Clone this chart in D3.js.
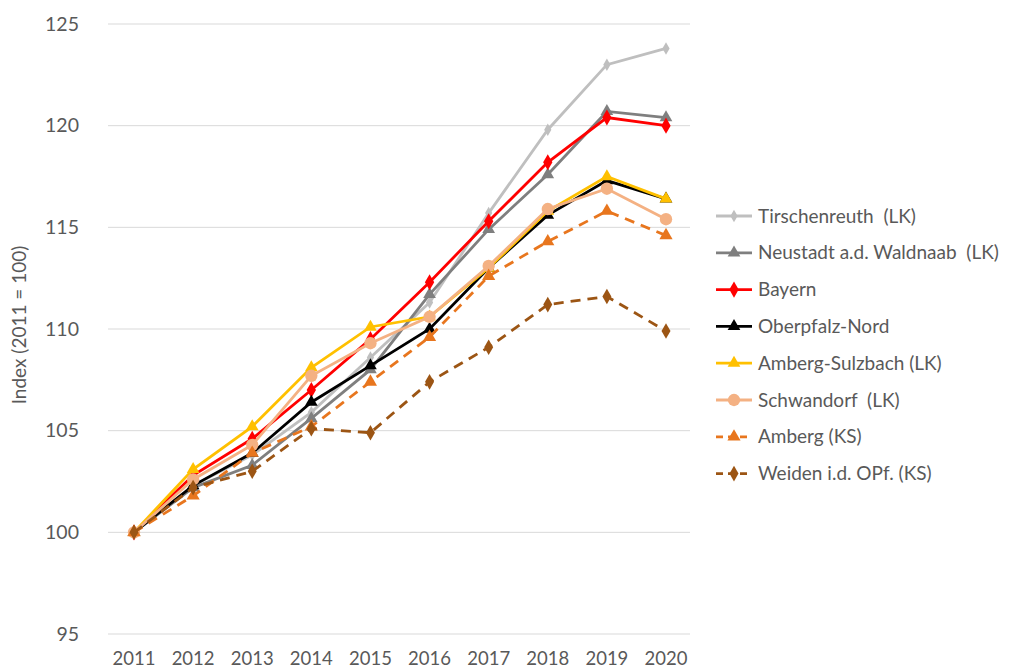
<!DOCTYPE html>
<html>
<head>
<meta charset="utf-8">
<script src="https://cdn.jsdelivr.net/npm/d3@7"></script>
<style>
  body { margin: 0; padding: 0; background: #fff; }
  svg text { font-family: Lato, 'Open Sans', sans-serif; fill: #595959; }
</style>
</head>
<body>
<svg id="chart" width="1032" height="672"></svg>
<script>
// data
const years = [2011, 2012, 2013, 2014, 2015, 2016, 2017, 2018, 2019, 2020]
const yTicks = [95, 100, 105, 110, 115, 120, 125]
const seriesNames = [
  'Tirschenreuth  (LK)',
  'Neustadt a.d. Waldnaab  (LK)',
  'Bayern',
  'Oberpfalz-Nord',
  'Amberg-Sulzbach (LK)',
  'Schwandorf  (LK)',
  'Amberg (KS)',
  'Weiden i.d. OPf. (KS)'
]
const tirschenreuth = [100, 102.3, 103.8, 105.9, 108.6, 111.3, 115.7, 119.8, 123.0, 123.8]
const neustadt = [100, 102.2, 103.3, 105.6, 108.0, 111.7, 114.9, 117.6, 120.7, 120.4]
const bayern = [100, 102.8, 104.6, 107.0, 109.5, 112.3, 115.3, 118.2, 120.4, 120.0]
const oberpfalzNord = [100, 102.3, 103.9, 106.4, 108.2, 110.0, 113.0, 115.6, 117.3, 116.4]
const ambergSulzbach = [100, 103.1, 105.2, 108.1, 110.1, 110.6, 113.0, 115.8, 117.5, 116.4]
const schwandorf = [100, 102.6, 104.3, 107.7, 109.3, 110.6, 113.1, 115.9, 116.9, 115.4]
const ambergKS = [100, 101.8, 103.9, 105.2, 107.4, 109.6, 112.6, 114.3, 115.8, 114.6]
const weiden = [100, 102.2, 103.0, 105.1, 104.9, 107.4, 109.1, 111.2, 111.6, 109.9]

const seriesValues = [tirschenreuth, neustadt, bayern, oberpfalzNord, ambergSulzbach, schwandorf, ambergKS, weiden]
const colors = ['#bfbfbf', '#7f7f7f', '#ff0000', '#000000', '#ffc000', '#f4b183', '#e8761e', '#9c5514']
const dashed = [false, false, false, false, false, false, true, true]
const markers = [d3.symbolDiamond, d3.symbolTriangle, d3.symbolDiamond, d3.symbolTriangle, d3.symbolTriangle, d3.symbolCircle, d3.symbolTriangle, d3.symbolDiamond]
const markerSizes = [45, 70, 75, 70, 70, 120, 75, 70]

const svg = d3.select('#chart')

const x = d3.scalePoint().domain(years).range([134, 666])
const y = d3.scaleLinear().domain([95, 125]).range([634, 24])

// gridlines
svg.append('g')
  .selectAll('line')
  .data(yTicks)
  .enter()
  .append('line')
  .attr('x1', 108)
  .attr('x2', 690)
  .attr('y1', d => y(d))
  .attr('y2', d => y(d))
  .attr('stroke', '#d9d9d9')
  .attr('stroke-width', 1)

// y axis labels
svg.append('g')
  .selectAll('text')
  .data(yTicks)
  .enter()
  .append('text')
  .text(d => d)
  .attr('x', 79)
  .attr('y', d => y(d))
  .attr('dy', '0.35em')
  .style('text-anchor', 'end')
  .style('font-size', '19.5px')

// x axis labels
svg.append('g')
  .selectAll('text')
  .data(years)
  .enter()
  .append('text')
  .text(d => d)
  .attr('x', d => x(d))
  .attr('y', 665)
  .style('text-anchor', 'middle')
  .style('font-size', '18.5px')

svg.append('text')
  .text('Index (2011 = 100)')
  .attr('transform', 'translate(26, 325) rotate(-90)')
  .style('text-anchor', 'middle')
  .style('font-size', '19px')

const line = d3.line()
  .x((d, i) => x(years[i]))
  .y(d => y(d))

const series = svg.selectAll('g.series')
  .data(seriesValues)
  .enter()
  .append('g')
  .classed('series', true)

series.append('path')
  .attr('d', d => line(d))
  .attr('fill', 'none')
  .attr('stroke', (d, i) => colors[i])
  .attr('stroke-width', 2.8)
  .attr('stroke-dasharray', (d, i) => dashed[i] ? '10,7' : null)

series.each(function (vals, si) {
  d3.select(this)
    .selectAll('path.marker')
    .data(vals)
    .enter()
    .append('path')
    .attr('class', 'marker')
    .attr('d', d3.symbol().type(markers[si]).size(markerSizes[si]))
    .attr('transform', (d, i) => `translate(${x(years[i])}, ${y(d)})`)
    .attr('fill', colors[si])
})

// legend
const legend = svg.append('g')
  .selectAll('g')
  .data(seriesNames)
  .enter()
  .append('g')
  .attr('transform', (d, i) => `translate(716, ${216 + i * 36.8})`)

legend.append('line')
  .attr('x1', 0)
  .attr('x2', 36)
  .attr('stroke', (d, i) => colors[i])
  .attr('stroke-width', 2.8)
  .attr('stroke-dasharray', (d, i) => dashed[i] ? '7,5' : null)

legend.append('path')
  .attr('d', (d, i) => d3.symbol().type(markers[i]).size(markerSizes[i])())
  .attr('transform', 'translate(18, 0)')
  .attr('fill', (d, i) => colors[i])

legend.append('text')
  .text(d => d)
  .attr('x', 42)
  .attr('dy', '0.35em')
  .style('white-space', 'pre')
  .style('font-size', '19px')
</script>
</body>
</html>
